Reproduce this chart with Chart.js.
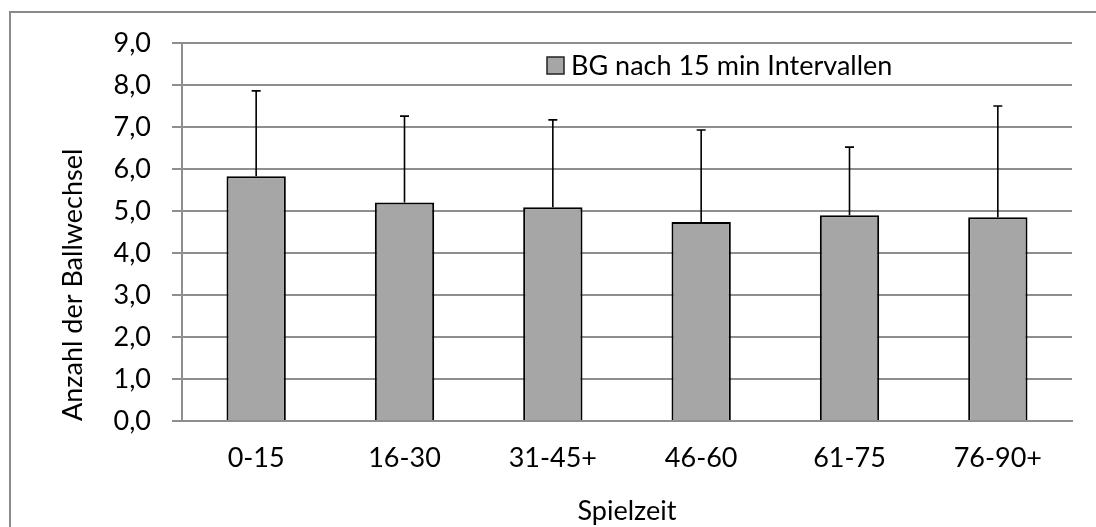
<!DOCTYPE html>
<html lang="de">
<head>
<meta charset="utf-8">
<title>BG nach 15 min Intervallen</title>
<script src="https://cdn.jsdelivr.net/npm/chart.js@4.4.1/dist/chart.umd.min.js"></script>
<style>
    html, body { margin: 0; padding: 0; background: #fff; overflow: hidden; }
    #wrap { position: relative; width: 1096px; height: 527px; }
    #frame {
        position: absolute; left: 9px; top: 11px; right: -10px; bottom: -10px;
        border-left: 2px solid #8a8a8a; border-top: 2px solid #8a8a8a;
        pointer-events: none;
    }
</style>
</head>
<body>
<div id="wrap">
    <canvas id="chart" width="1096" height="527"></canvas>
    <div id="frame"></div>
</div>
<script>
// ---------------------------------------------------------------------------
// Data
// ---------------------------------------------------------------------------
const categories = ["0-15", "16-30", "31-45+", "46-60", "61-75", "76-90+"];
const means = [5.83, 5.20, 5.09, 4.74, 4.90, 4.85];
const sds = [2.03, 2.06, 2.08, 2.19, 1.62, 2.65];
const seriesLabel = "BG nach 15 min Intervallen";
const yTicks = [0, 1, 2, 3, 4, 5, 6, 7, 8, 9];

const FONT = "Lato, 'Open Sans', sans-serif";
const FSIZE = 27;
const GRID = "#8e8e8e";
const BAR = "#a6a6a6";

// ---------------------------------------------------------------------------
// Plugins
// ---------------------------------------------------------------------------
const errorBars = {
    id: "errorBars",
    afterDatasetsDraw(chart) {
        const { ctx } = chart;
        const y = chart.scales.y;
        const meta = chart.getDatasetMeta(0);
        ctx.save();
        ctx.strokeStyle = "#000";
        ctx.lineWidth = 1.6;
        meta.data.forEach((bar, i) => {
            const top = y.getPixelForValue(means[i] + sds[i]);
            ctx.beginPath();
            ctx.moveTo(bar.x, bar.y);
            ctx.lineTo(bar.x, top);
            ctx.moveTo(bar.x - 4.5, top);
            ctx.lineTo(bar.x + 4.5, top);
            ctx.stroke();
        });
        ctx.restore();
    },
};

// legend sits inside the plot, drawn by hand
const innerLegend = {
    id: "innerLegend",
    afterDraw(chart) {
        const { ctx } = chart;
        const ds = chart.data.datasets[0];
        ctx.save();
        ctx.fillStyle = ds.backgroundColor;
        ctx.fillRect(547, 57, 17, 17);
        ctx.strokeStyle = "#222";
        ctx.lineWidth = 1.5;
        ctx.strokeRect(547, 57, 17, 17);
        ctx.fillStyle = "#000";
        ctx.font = `${FSIZE}px ${FONT}`;
        ctx.textBaseline = "middle";
        ctx.fillText(ds.label, 571, 66);
        ctx.restore();
    },
};

// ---------------------------------------------------------------------------
// Chart
// ---------------------------------------------------------------------------
new Chart(document.getElementById("chart"), {
    type: "bar",
    data: {
        labels: categories,
        datasets: [{
            label: seriesLabel,
            data: means,
            backgroundColor: BAR,
            borderColor: "#000",
            borderWidth: 2,
            barPercentage: 0.4,
            categoryPercentage: 1,
        }],
    },
    options: {
        responsive: false,
        animation: false,
        devicePixelRatio: 1,
        layout: { padding: { top: 43, right: 24, left: 0, bottom: 0 } },
        plugins: {
            legend: { display: false },
            tooltip: { enabled: false },
        },
        scales: {
            x: {
                grid: { display: false, drawTicks: false },
                border: { display: true, color: GRID, width: 2 },
                ticks: { color: "#000", font: { family: FONT, size: FSIZE }, padding: 21 },
                title: {
                    display: true, text: "Spielzeit", color: "#000",
                    font: { family: FONT, size: FSIZE }, padding: { top: 0, bottom: 0 },
                },
                afterFit(s) { s.height = 106; },
            },
            y: {
                min: 0,
                max: 9,
                afterBuildTicks(s) { s.ticks = yTicks.map(v => ({ value: v })); },
                grid: { color: GRID, lineWidth: 2, tickLength: 10 },
                border: { display: true, color: GRID, width: 2 },
                ticks: {
                    color: "#000",
                    font: { family: FONT, size: FSIZE },
                    padding: 21,
                    callback: v => v.toFixed(1).replace(".", ","),
                },
                title: {
                    display: true, text: "Anzahl der Ballwechsel", color: "#000", align: "start",
                    font: { family: FONT, size: FSIZE }, padding: { top: 57, bottom: 0 },
                },
                afterFit(s) { s.width = 182; },
            },
        },
    },
    plugins: [errorBars, innerLegend],
});
</script>
</body>
</html>
